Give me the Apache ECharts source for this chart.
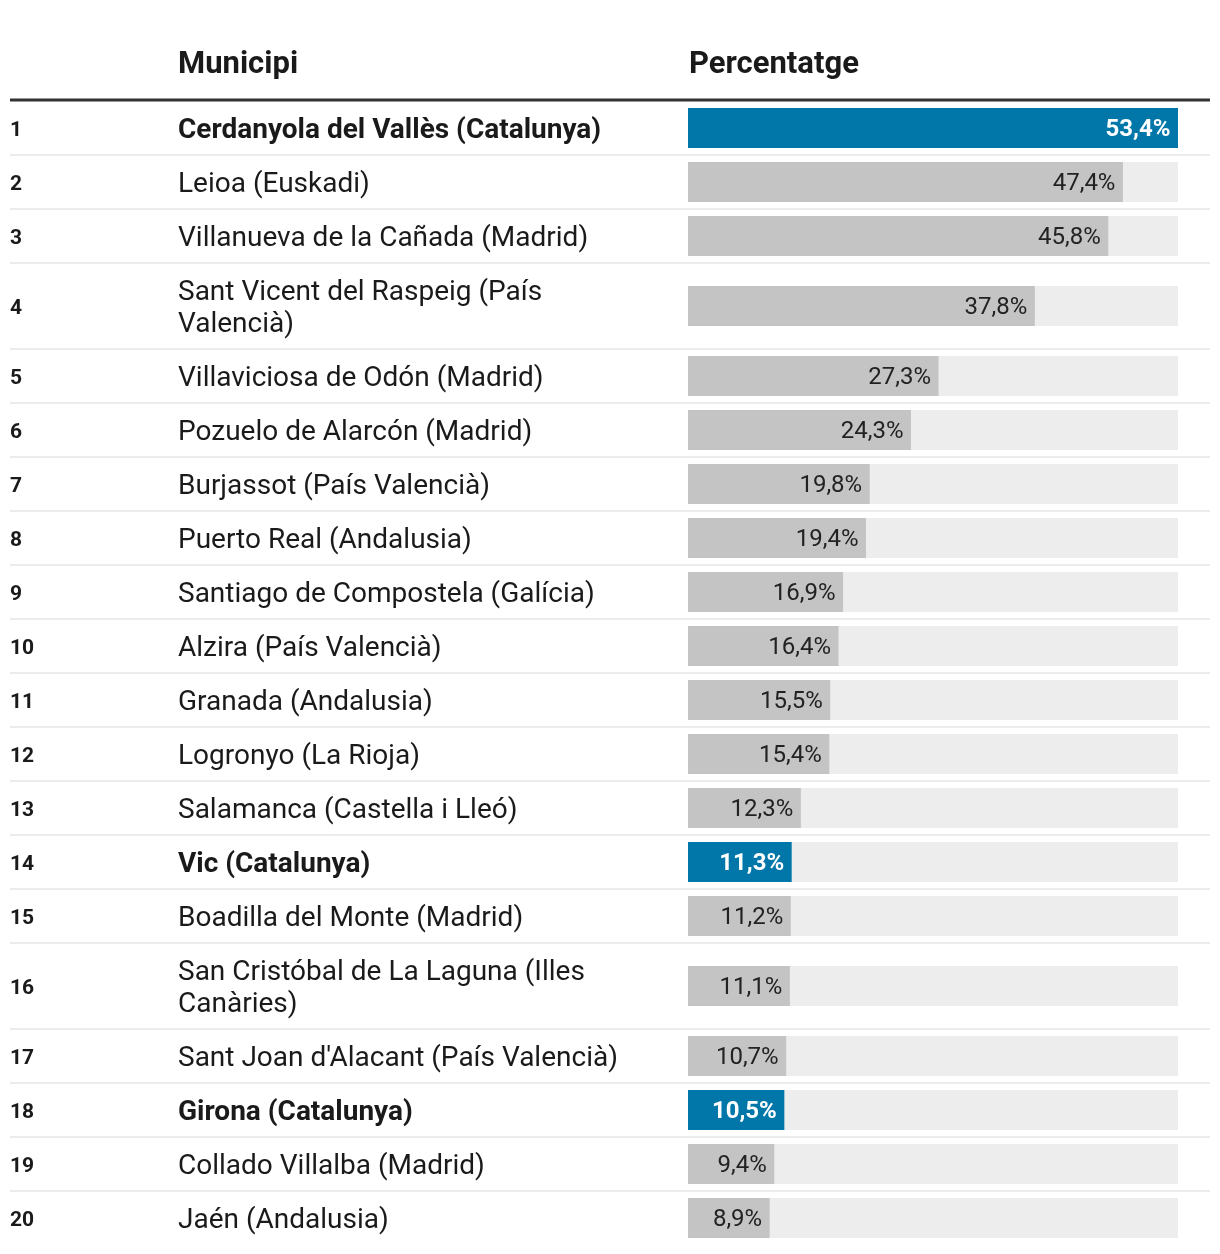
<!DOCTYPE html>
<html><head><meta charset="utf-8">
<script src="https://cdn.jsdelivr.net/npm/echarts@6/dist/echarts.min.js"></script>
<style>html,body{margin:0;padding:0;background:#fff}#c{width:1220px;height:1254px}</style>
</head><body><div id="c"></div>
<script>
const ranks = [1,2,3,4,5,6,7,8,9,10,11,12,13,14,15,16,17,18,19,20];
const municipis = [
  'Cerdanyola del Vallès (Catalunya)',
  'Leioa (Euskadi)',
  'Villanueva de la Cañada (Madrid)',
  'Sant Vicent del Raspeig (País Valencià)',
  'Villaviciosa de Odón (Madrid)',
  'Pozuelo de Alarcón (Madrid)',
  'Burjassot (País Valencià)',
  'Puerto Real (Andalusia)',
  'Santiago de Compostela (Galícia)',
  'Alzira (País Valencià)',
  'Granada (Andalusia)',
  'Logronyo (La Rioja)',
  'Salamanca (Castella i Lleó)',
  'Vic (Catalunya)',
  'Boadilla del Monte (Madrid)',
  'San Cristóbal de La Laguna (Illes Canàries)',
  "Sant Joan d'Alacant (País Valencià)",
  'Girona (Catalunya)',
  'Collado Villalba (Madrid)',
  'Jaén (Andalusia)'
];
const percentatges = [53.4,47.4,45.8,37.8,27.3,24.3,19.8,19.4,16.9,16.4,15.5,15.4,12.3,11.3,11.2,11.1,10.7,10.5,9.4,8.9];
const destacats = [true,false,false,false,false,false,false,false,false,false,false,false,false,true,false,false,false,true,false,false];
const headers = ['Municipi','Percentatge'];

const FONT = 'Roboto, "Noto Sans", sans-serif';
const NAME_SIZE = 28, WRAP_W = 465, LINE_H = 32, ROW_PAD = 22, SEP = 2;
const ctx = document.createElement('canvas').getContext('2d');
function wrap(text, bold) {
  ctx.font = (bold ? 'bold ' : '') + NAME_SIZE + 'px ' + FONT;
  const words = text.split(' ');
  const lines = [];
  let cur = '';
  words.forEach(w => {
    const t = cur ? cur + ' ' + w : w;
    if (cur && ctx.measureText(t).width > WRAP_W) { lines.push(cur); cur = w; }
    else cur = t;
  });
  if (cur) lines.push(cur);
  return lines;
}
const wrapped = municipis.map((m, i) => wrap(m, destacats[i]));
const heights = wrapped.map(l => ROW_PAD + LINE_H * l.length);
const tops = [];
let acc = 0;
heights.forEach(h => { tops.push(acc); acc += h; });
const total = acc;
const maxVal = Math.max(...percentatges);
const fmt = v => v.toFixed(1).replace('.', ',') + '%';

const chart = echarts.init(document.getElementById('c'), null, {renderer: 'canvas'});
const GRID_TOP = 102, GRID_LEFT = 688, GRID_W = 490, X_RANK = 10, X_NAME = 178, X_END = 1210;

chart.setOption({
  backgroundColor: '#ffffff',
  animation: false,
  grid: {left: GRID_LEFT, top: GRID_TOP, width: GRID_W, height: total},
  xAxis: {type: 'value', min: 0, max: maxVal, show: false},
  yAxis: {type: 'value', min: 0, max: total, inverse: true, show: false},
  graphic: [
    {type: 'text', x: X_NAME, y: 65, style: {text: headers[0], font: 'bold 31px ' + FONT, fill: '#1a1a1a', verticalAlign: 'middle'}},
    {type: 'text', x: GRID_LEFT + 1, y: 65, style: {text: headers[1], font: 'bold 31px ' + FONT, fill: '#1a1a1a', verticalAlign: 'middle'}},
    {type: 'rect', shape: {x: X_RANK, y: 98.5, width: X_END - X_RANK, height: 3}, style: {fill: '#333333'}}
  ],
  series: [{
    type: 'custom',
    clip: false,
    encode: {x: 0, y: 1},
    data: percentatges.map((v, i) => [v, tops[i], heights[i], i]),
    renderItem: function (params, api) {
      const i = api.value(3);
      const v = api.value(0), top = api.value(1), h = api.value(2);
      const cy = api.coord([0, top + (h - SEP) / 2])[1];
      const yBot = api.coord([0, top + h])[1];
      const x0 = api.coord([0, top])[0];
      const x1 = api.coord([v, top])[0];
      const xm = api.coord([maxVal, top])[0];
      const bh = 40;
      const hl = destacats[i];
      const children = [
        {type: 'rect', shape: {x: x0, y: cy - bh / 2, width: xm - x0, height: bh}, style: {fill: '#ededed'}},
        {type: 'rect', shape: {x: x0, y: cy - bh / 2, width: x1 - x0, height: bh}, style: {fill: hl ? '#0077a8' : '#c4c4c4'}},
        {type: 'text', x: x1 - 7.5, y: cy + 2, style: {text: fmt(v), align: 'right', verticalAlign: 'middle', font: (hl ? 'bold ' : '') + '24px ' + FONT, fill: hl ? '#ffffff' : '#222222'}},
        {type: 'text', x: X_RANK, y: cy + 2.5, style: {text: String(ranks[i]), align: 'left', verticalAlign: 'middle', font: 'bold 21px ' + FONT, fill: '#1a1a1a'}},
        {type: 'text', x: X_NAME, y: cy + 2.5, style: {text: wrapped[i].join('\n'), align: 'left', verticalAlign: 'middle', lineHeight: LINE_H, font: (hl ? 'bold ' : '') + NAME_SIZE + 'px ' + FONT, fill: '#1a1a1a'}}
      ];
      if (i < percentatges.length - 1) {
        children.push({type: 'rect', shape: {x: X_RANK, y: yBot - SEP, width: X_END - X_RANK, height: SEP}, style: {fill: '#ececec'}});
      }
      return {type: 'group', children: children};
    }
  }]
});
</script></body></html>
